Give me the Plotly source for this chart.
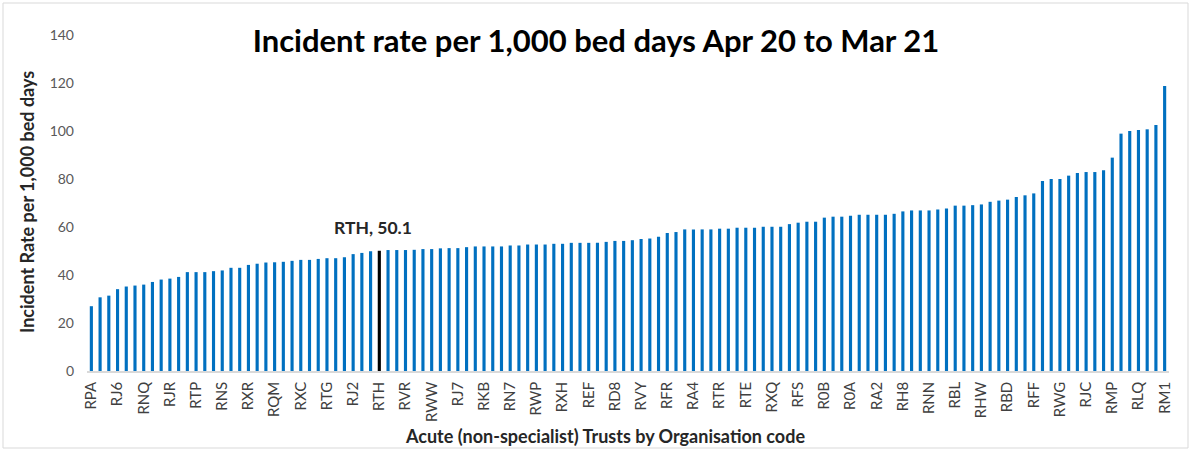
import numpy as np
import plotly.graph_objects as go

# Visible x-axis labels (every 3rd trust)
codes = ["RPA", "RJ6", "RNQ", "RJR", "RTP", "RNS", "RXR", "RQM", "RXC", "RTG",
         "RJ2", "RTH", "RVR", "RWW", "RJ7", "RKB", "RN7", "RWP", "RXH", "REF",
         "RD8", "RVY", "RFR", "RA4", "RTR", "RTE", "RXQ", "RFS", "R0B", "R0A",
         "RA2", "RH8", "RNN", "RBL", "RHW", "RBD", "RFF", "RWG", "RJC", "RMP",
         "RLQ", "RM1"]
label_step = 3

# Incident rate per 1,000 bed days (sorted ascending), 124 trusts
rates = [27.0, 30.7, 31.4, 34.1, 35.2, 35.6, 36.0, 37.1, 38.1, 38.5,
         39.2, 41.2, 41.2, 41.2, 41.6, 41.9, 43.0, 43.0, 44.2, 44.7,
         45.2, 45.3, 45.5, 45.9, 46.3, 46.3, 46.7, 47.0, 47.0, 47.4,
         48.7, 49.2, 49.9, 50.1, 50.4, 50.4, 50.4, 50.5, 50.8, 50.8,
         51.1, 51.2, 51.2, 51.6, 51.9, 51.9, 51.9, 51.9, 52.3, 52.3,
         52.7, 52.7, 52.7, 53.0, 53.0, 53.4, 53.4, 53.4, 53.4, 53.8,
         54.2, 54.2, 54.5, 55.0, 55.2, 55.9, 57.5, 57.9, 59.0, 59.0,
         59.0, 59.0, 59.3, 59.3, 59.7, 59.7, 59.7, 60.1, 60.1, 60.1,
         61.2, 61.8, 62.2, 62.2, 63.9, 64.3, 64.3, 64.7, 65.1, 65.1,
         65.1, 65.1, 65.5, 66.5, 66.9, 66.9, 66.9, 67.3, 67.7, 68.9,
         68.9, 69.1, 69.4, 70.5, 71.0, 71.4, 72.5, 73.2, 74.0, 79.2,
         80.0, 80.0, 81.4, 82.5, 82.9, 82.9, 83.6, 88.9, 98.9, 100.0,
         100.4, 100.7, 102.5, 118.7]

highlight_code = "RTH"
highlight_value = 50.1

title_text = "Incident rate per 1,000 bed days Apr 20 to Mar 21"
y_title = "Incident Rate per 1,000 bed days"
x_title = "Acute (non-specialist) Trusts by Organisation code"
y_ticks = [0, 20, 40, 60, 80, 100, 120, 140]

FONT = "Lato"
BLUE = "#0070C0"

x = np.arange(len(rates))
hi_idx = codes.index(highlight_code) * label_step
colors = ["#000000" if i == hi_idx else BLUE for i in x]

fig = go.Figure(go.Bar(x=x, y=rates, marker_color=colors, marker_line_width=0))

W, H = 1192, 451
ml, mr, mt, mb = 87, 23, 35, 80
pw, ph = W - ml - mr, H - mt - mb

def px_x(px):
    return (px - ml) / pw

def px_y(py):
    return (H - mb - py) / ph

fig.update_layout(
    width=W, height=H,
    margin=dict(l=ml, r=mr, t=mt, b=mb),
    paper_bgcolor="white", plot_bgcolor="white",
    bargap=0.64,
    showlegend=False,
    font=dict(family=FONT),
    title=dict(text="<b>" + title_text + "</b>", x=0.5, xref="container",
               xanchor="center", y=1 - 41 / H, yref="container", yanchor="middle",
               font=dict(family=FONT, size=31, color="#000000")),
    xaxis=dict(range=[-0.5, len(rates) - 0.5],
               tickvals=list(x[::label_step]), ticktext=codes,
               tickangle=-90, ticks="", showgrid=False, zeroline=False,
               showline=True, linecolor="#D9D9D9", linewidth=1.5,
               tickfont=dict(family=FONT, size=15, color="#404040"),
               ticklabelstandoff=3),
    yaxis=dict(range=[0, 140], tickvals=y_ticks, ticks="", showgrid=False,
               zeroline=False, showline=False,
               tickfont=dict(family=FONT, size=14, color="#595959"),
               ticklabelstandoff=12),
    annotations=[
        dict(x=hi_idx, y=highlight_value, xref="x", yref="y",
             text="<b>%s, %.1f</b>" % (highlight_code, highlight_value),
             showarrow=False, yanchor="bottom", yshift=11, xshift=-6,
             font=dict(family=FONT, size=17.5, color="#262626")),
        dict(x=px_x(605), y=px_y(436), xref="paper", yref="paper",
             text="<b>" + x_title + "</b>", showarrow=False,
             xanchor="center", yanchor="middle",
             font=dict(family=FONT, size=18, color="#262626")),
        dict(x=px_x(27), y=px_y(202), xref="paper", yref="paper",
             text="<b>" + y_title + "</b>", showarrow=False, textangle=-90,
             xanchor="center", yanchor="middle",
             font=dict(family=FONT, size=18, color="#262626")),
    ],
    shapes=[dict(type="rect", xref="paper", yref="paper",
                 x0=px_x(3), x1=px_x(1188), y0=px_y(448), y1=px_y(3),
                 line=dict(color="#D9D9D9", width=1), fillcolor="rgba(0,0,0,0)")],
)

fig.write_html("out.html", config={"displayModeBar": False},
               post_script="document.body.style.margin='0';")
